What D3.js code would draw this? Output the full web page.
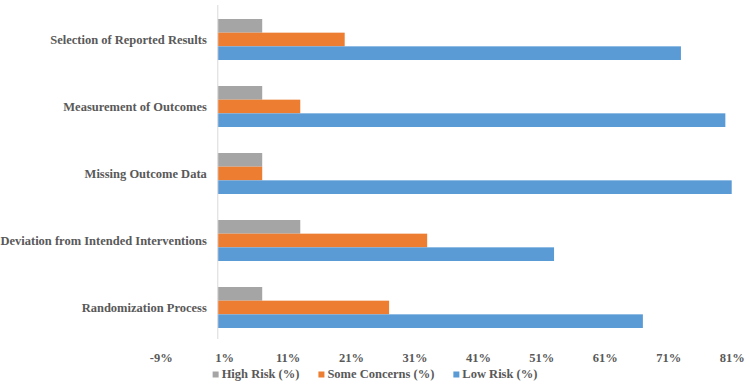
<!DOCTYPE html>
<html>
<head>
    <meta charset="UTF-8">
    <title>Risk of Bias</title>
    <script src="https://d3js.org/d3.v7.min.js"></script>
    <style type="text/css">
        body { margin: 0; background: #fff; }
    </style>
</head>
<body>
    <svg id="chart"></svg>

    <script>
        // data, top row first
        const categories = ["Selection of Reported Results", "Measurement of Outcomes", "Missing Outcome Data",
                            "Deviation from Intended Interventions", "Randomization Process"];
        const series = ["High Risk (%)", "Some Concerns (%)", "Low Risk (%)"];
        const high_risk = [7, 7, 7, 13, 7];
        const some_concerns = [20, 13, 7, 33, 27];
        const low_risk = [73, 80, 86, 53, 67];
        const tick_values = [-9, 1, 11, 21, 31, 41, 51, 61, 71, 81];
        const colors = ["#A5A5A5", "#ED7D31", "#5B9BD5"];

        const WIDTH = 750;
        const HEIGHT = 386;
        const FONT_SIZE = "12.5px";
        const FONT_FAMILY = "'Liberation Serif', 'Times New Roman', serif";
        const TEXT_COLOR = "#595959";

        const svg = d3.select("#chart")
            .attr("width", WIDTH)
            .attr("height", HEIGHT);

        // helper so every label gets the same look
        const style_text = function(sel) {
            sel.style("font-family", FONT_FAMILY)
               .style("font-size", FONT_SIZE)
               .style("font-weight", "bold")
               .style("fill", TEXT_COLOR);
        };

        const values = [high_risk, some_concerns, low_risk];
        const rows = categories.map((c, i) => ({
            name: c,
            vals: series.map((s, j) => ({series: s, idx: j, v: values[j][i]}))
        }));

        // x axis (the bars are clipped at the axis max, as in the original)
        const x = d3.scaleLinear()
            .domain([-9, 81])
            .range([160.7, 731.7])
            .clamp(true);

        const y = d3.scaleBand()
            .domain(categories)
            .range([6, 341])
            .paddingInner(0.388)
            .paddingOuter(0.194);

        const y_inner = d3.scaleBand()
            .domain(series)
            .range([0, y.bandwidth()]);

        // bars
        const groups = svg.selectAll(".group").data(rows)
            .enter().append("g")
            .attr("class", "group")
            .attr("transform", (d) => `translate(0, ${y(d.name)})`);

        groups.selectAll("rect").data((d) => d.vals)
            .enter().append("rect")
            .attr("x", x(0))
            .attr("y", (d) => y_inner(d.series))
            .attr("width", (d) => x(d.v) - x(0))
            .attr("height", y_inner.bandwidth())
            .style("fill", (d) => colors[d.idx]);

        // vertical axis line at zero
        svg.append("line")
            .attr("x1", x(0)).attr("x2", x(0))
            .attr("y1", y.range()[0] - 1).attr("y2", y.range()[1] - 2)
            .style("stroke", "#D9D9D9")
            .style("stroke-width", 1);

        // category labels
        svg.selectAll(".cat_label").data(categories)
            .enter().append("text")
            .attr("class", "cat_label")
            .attr("x", x(0) - 11)
            .attr("y", (d) => y(d) + y.bandwidth() / 2)
            .attr("dy", "0.35em")
            .style("text-anchor", "end")
            .call(style_text)
            .text((d) => d);

        // x axis tick labels (no line, no ticks)
        const x_axis = svg.append("g")
            .attr("class", "x_axis")
            .attr("transform", "translate(0, 350)")
            .call(d3.axisBottom(x).tickValues(tick_values).tickFormat((d) => d + "%").tickSize(0).tickPadding(0));
        x_axis.select(".domain").remove();
        x_axis.selectAll("text")
            .attr("dy", "0.95em")
            .call(style_text);

        // legend, centred under the chart
        const legend = svg.append("g").attr("class", "legend");
        const items = legend.selectAll(".item").data(series)
            .enter().append("g")
            .attr("class", "item");
        items.append("rect")
            .attr("x", 0).attr("y", -6.5)
            .attr("width", 6).attr("height", 6)
            .style("fill", (d, i) => colors[i]);
        items.append("text")
            .attr("x", 9).attr("y", 0)
            .call(style_text)
            .text((d) => d);

        let offset = 0;
        const widths = [];
        items.each(function() {
            widths.push(9 + d3.select(this).select("text").node().getComputedTextLength());
        });
        const total = d3.sum(widths) + 19 * (widths.length - 1);
        items.attr("transform", function(d, i) {
            const t = `translate(${offset}, 0)`;
            offset += widths[i] + 19;
            return t;
        });
        legend.attr("transform", `translate(${WIDTH / 2 - total / 2}, 378)`);
    </script>
</body>
</html>
